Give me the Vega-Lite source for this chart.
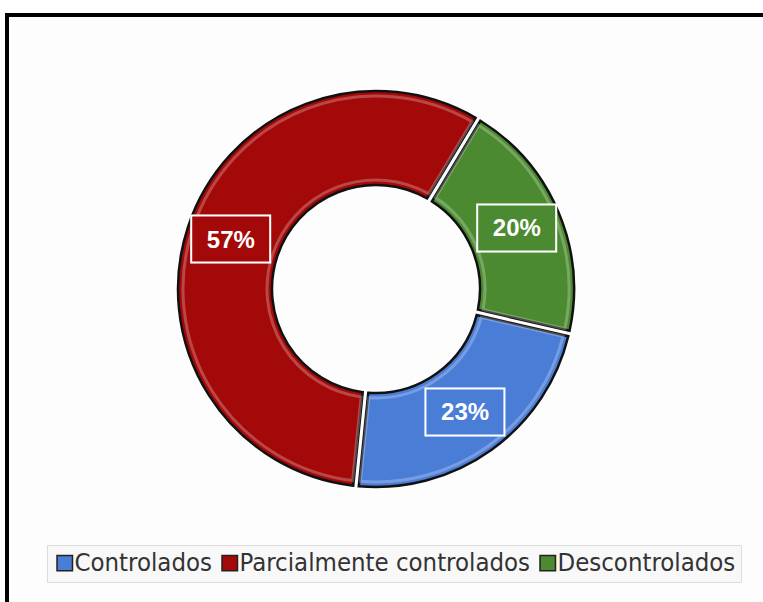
{
  "$schema": "https://vega.github.io/schema/vega-lite/v6.json",
  "width": 800,
  "height": 620,
  "autosize": {"type": "none"},
  "padding": {"left": 7, "top": 15, "right": 0, "bottom": 0},
  "background": "white",
  "config": {"view": {"stroke": "#000000", "strokeWidth": 4, "fill": "#fdfdfd"}},
  "data": {"values": [
    {"estado": "Descontrolados", "pct": 20, "ord": 1, "label": "20%"},
    {"estado": "Controlados", "pct": 23, "ord": 2, "label": "23%"},
    {"estado": "Parcialmente controlados", "pct": 57, "ord": 3, "label": "57%"}
  ]},
  "encoding": {
    "theta": {"field": "pct", "type": "quantitative", "stack": true, "scale": {"range": [0.541, 6.824]}},
    "order": {"field": "ord", "type": "quantitative"},
    "x": {"value": 369},
    "y": {"value": 274}
  },
  "layer": [
    {
      "mark": {"type": "arc", "radius": 198, "radius2": 104, "padAngle": 0.025, "stroke": "#111111", "strokeWidth": 2.5},
      "encoding": {
        "color": {
          "field": "estado", "type": "nominal",
          "scale": {"domain": ["Controlados", "Parcialmente controlados", "Descontrolados"], "range": ["#4A7DD6", "#A30909", "#4B8A30"]},
          "legend": {
            "orient": "none", "legendX": 40, "legendY": 530, "direction": "horizontal", "title": null,
            "symbolType": "square", "symbolSize": 240, "symbolStrokeColor": "#222222", "symbolStrokeWidth": 1.5,
            "labelFont": "DejaVu Sans Condensed", "labelFontSize": 25.5, "labelColor": "#333333", "labelOffset": -3,
            "labelLimit": 400, "columnPadding": 5, "padding": 5, "fillColor": "#f8f8f8", "strokeColor": "#dcdcdc"
          }
        }
      }
    },
    {
      "mark": {"type": "arc", "radius": 193, "radius2": 109, "padAngle": 0.035, "fillOpacity": 0, "stroke": "white", "strokeOpacity": 0.25, "strokeWidth": 3}
    },
    {
      "mark": {"type": "text", "radius": 153, "text": "▬", "font": "DejaVu Sans", "fontSize": 81.3, "dy": -4.6, "align": "center", "baseline": "middle", "fill": "white", "stroke": "white", "strokeWidth": 18.9, "strokeJoin": "miter"}
    },
    {
      "mark": {"type": "text", "radius": 153, "text": "▬", "font": "DejaVu Sans", "fontSize": 81.3, "dy": -4.6, "align": "center", "baseline": "middle", "strokeWidth": 14.9, "strokeJoin": "miter"},
      "encoding": {
        "fill": {"condition": [{"test": "datum.ord == 1", "value": "#4B8A30"}, {"test": "datum.ord == 2", "value": "#4A7DD6"}], "value": "#A30909"},
        "stroke": {"condition": [{"test": "datum.ord == 1", "value": "#4B8A30"}, {"test": "datum.ord == 2", "value": "#4A7DD6"}], "value": "#A30909"}
      }
    },
    {
      "mark": {"type": "text", "radius": 153, "font": "Liberation Sans", "fontSize": 24, "fontWeight": "bold", "fill": "white", "align": "center", "baseline": "middle"},
      "encoding": {"text": {"field": "label", "type": "nominal"}}
    }
  ]
}
